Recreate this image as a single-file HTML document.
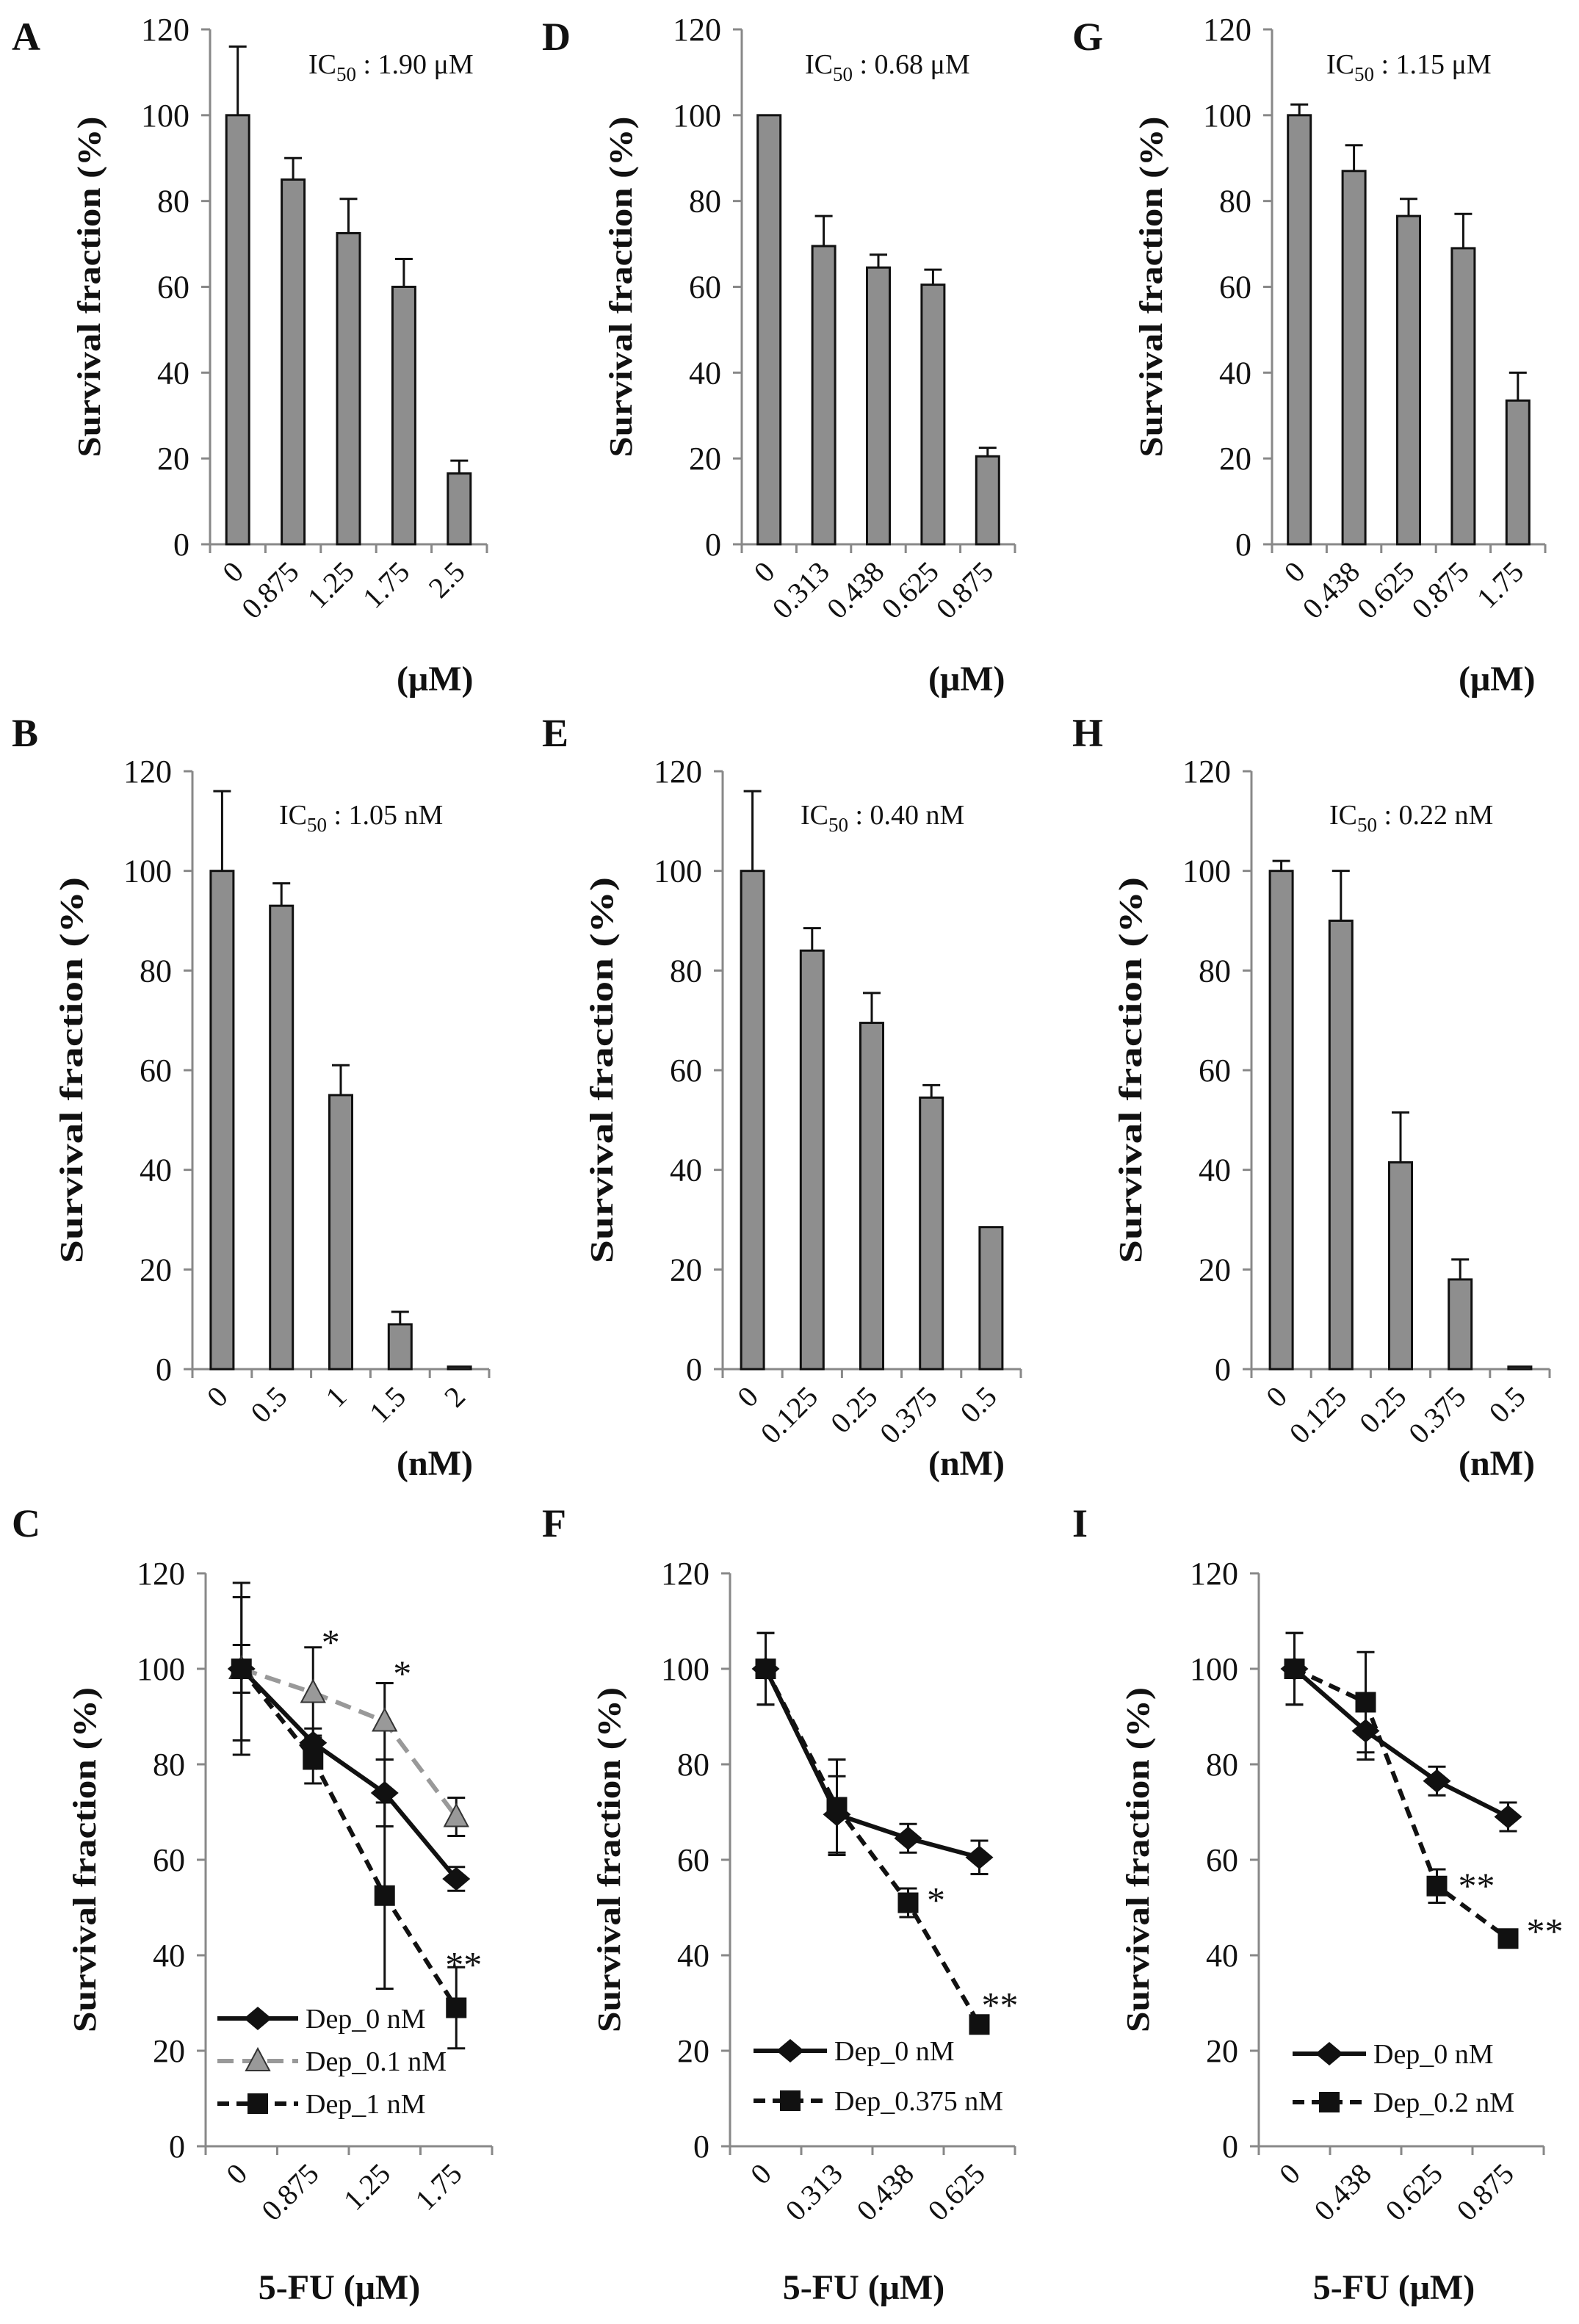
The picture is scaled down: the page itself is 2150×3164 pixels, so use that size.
<!DOCTYPE html>
<html><head><meta charset="utf-8">
<style>
html,body{margin:0;padding:0;background:#fff;}
svg{display:block;font-family:"Liberation Serif",serif;}
svg text{font-family:"Liberation Serif","Times New Roman",serif;}
</style></head>
<body>
<svg id="fig" width="2150" height="3164" viewBox="0 0 2150 3164" xmlns="http://www.w3.org/2000/svg" font-family="Liberation Serif, serif"></svg>
<script>
// ---- data ----
const yTicks=[0,20,40,60,80,100,120];
const A_cats=["0","0.875","1.25","1.75","2.5"];
const A_vals=[100,85,72.5,60,16.5];
const A_errs=[16,5,8,6.5,3];
const D_cats=["0","0.313","0.438","0.625","0.875"];
const D_vals=[100,69.5,64.5,60.5,20.5];
const D_errs=[0,7,3,3.5,2];
const G_cats=["0","0.438","0.625","0.875","1.75"];
const G_vals=[100,87,76.5,69,33.5];
const G_errs=[2.5,6,4,8,6.5];
const B_cats=["0","0.5","1","1.5","2"];
const B_vals=[100,93,55,9,0.5];
const B_errs=[16,4.5,6,2.5,0];
const E_cats=["0","0.125","0.25","0.375","0.5"];
const E_vals=[100,84,69.5,54.5,28.5];
const E_errs=[16,4.5,6,2.5,0];
const H_cats=["0","0.125","0.25","0.375","0.5"];
const H_vals=[100,90,41.5,18,0.5];
const H_errs=[2,10,10,4,0];
const C_cats=["0","0.875","1.25","1.75"];
const C_dep0=[100,84.5,74,56];
const C_dep0_err=[5,3,7,2.5];
const C_dep01=[100,95,89,69];
const C_dep01_err=[18,9.5,8,4];
const C_dep1=[100,81,52.5,29];
const C_dep1_err=[15,5,19.5,8.5];
const F_cats=["0","0.313","0.438","0.625"];
const F_dep0=[100,69.5,64.5,60.5];
const F_dep0_err=[7.5,8,3,3.5];
const F_dep375=[100,71,51,25.5];
const F_dep375_err=[7.5,10,3,1];
const I_cats=["0","0.438","0.625","0.875"];
const I_dep0=[100,87,76.5,69];
const I_dep0_err=[7.5,6,3,3];
const I_dep02=[100,93,54.5,43.5];
const I_dep02_err=[7.5,10.5,3.5,1.5];

const NS="http://www.w3.org/2000/svg";
const svg=document.getElementById('fig');
function mk(tag,attrs,parent){const e=document.createElementNS(NS,tag);for(const k in attrs)e.setAttribute(k,attrs[k]);(parent||svg).appendChild(e);return e;}
function txt(s,attrs,parent){attrs['font-family']='Liberation Serif, serif';const e=mk('text',attrs,parent);e.textContent=s;return e;}

function axes(g,P,cats){
  const yS=v=>P.ybot-(v/120)*(P.ybot-P.ytop);
  const cw=(P.xr-P.x0)/cats.length;
  const ax=mk('line',{x1:P.x0,y1:P.ytop,x2:P.x0,y2:P.ybot,stroke:'#888','stroke-width':3},g);
  
  
  const bx=mk('line',{x1:P.x0-12,y1:P.ybot,x2:P.xr,y2:P.ybot,stroke:'#888','stroke-width':3},g);
  
  
  yTicks.forEach(t=>{
    const y=yS(t);
    mk('line',{x1:P.x0-12,y1:y,x2:P.x0,y2:y,stroke:'#888','stroke-width':3},g);
    const l=txt(String(t),{x:P.x0-28,y:y+15,'text-anchor':'end','font-size':44,fill:'#111'},g);
    
    
  });
  for(let i=0;i<=cats.length;i++){
    const x=P.x0+i*cw;
    mk('line',{x1:x,y1:P.ybot,x2:x,y2:P.ybot+12,stroke:'#888','stroke-width':3},g);
  }
  cats.forEach((c,i)=>{
    const cx=P.x0+(i+0.5)*cw+10, cy=P.ybot+40;
    const l=txt(c,{x:cx,y:cy,'text-anchor':'end','font-size':40,fill:'#111',transform:`rotate(-45 ${cx} ${cy})`},g);
    
    
  });
  const yt=txt('Survival fraction (%)',{x:0,y:0,'text-anchor':'middle','font-size':44,'font-weight':'bold',fill:'#111',textLength:P.tl,lengthAdjust:'spacingAndGlyphs',transform:`translate(${P.x0-150},${(P.ytop+P.ybot)/2}) rotate(-90)`},g);
  
  
  const lt=txt(P.letter,{x:P.lx,y:P.ly,'font-size':54,'font-weight':'bold',fill:'#111'},g);
  
  
  const u=txt(P.unit,{x:P.ux,y:P.uy,'text-anchor':P.uanchor||'start','font-size':48,'font-weight':'bold',fill:'#111'},g);
  
  
  return {yS,cw};
}

function errBar(g,x,y1,y2,col){
  mk('line',{x1:x,y1:y1,x2:x,y2:y2,stroke:col,'stroke-width':3},g);
  mk('line',{x1:x-12,y1:y1,x2:x+12,y2:y1,stroke:col,'stroke-width':3},g);
}

function barChart(P,cats,vals,errs){
  const g=mk('g',{});
  
  
  const {yS,cw}=axes(g,P,cats);
  const bw=31;
  vals.forEach((v,i)=>{
    const cx=P.x0+(i+0.5)*cw;
    if(errs[i]>0) errBar(g,cx,yS(v+errs[i]),yS(v),'#111');
    const r=mk('rect',{x:cx-bw/2,y:yS(v),width:bw,height:Math.max(1,P.ybot-yS(v)),fill:'#8e8e8e',stroke:'#111','stroke-width':3},g);
    
    
  });
  const ic=mk('text',{x:P.icx,y:P.icy,'font-size':38,fill:'#111','font-family':'Liberation Serif, serif'},g);
  
  
  ic.innerHTML='IC<tspan font-size="27" dy="10">50</tspan><tspan dy="-10"> : '+P.ic+'</tspan>';
}

function marker(g,type,x,y){
  let m;
  if(type==='diamond') m=mk('polygon',{points:`${x},${y-16} ${x+19},${y} ${x},${y+16} ${x-19},${y}`,fill:'#111'},g);
  else if(type==='square') m=mk('rect',{x:x-14,y:y-14,width:28,height:28,fill:'#111'},g);
  else m=mk('polygon',{points:`${x},${y-17} ${x+16},${y+13} ${x-16},${y+13}`,fill:'#999',stroke:'#333','stroke-width':2},g);
  return m;
}

function lineChart(P,cats,series,stars,legend){
  const g=mk('g',{});
  
  
  const {yS,cw}=axes(g,P,cats);
  const X=i=>P.x0+(i+0.5)*cw;
  series.forEach(s=>{
    s.vals.forEach((v,i)=>errBar(g,X(i),yS(v+s.errs[i]),yS(v-s.errs[i]),'#111'));
    s.vals.forEach((v,i)=>mk('line',{x1:X(i)-12,y1:yS(v-s.errs[i]),x2:X(i)+12,y2:yS(v-s.errs[i]),stroke:'#111','stroke-width':3},g));
  });
  series.forEach(s=>{
    const pts=s.vals.map((v,i)=>X(i)+','+yS(v)).join(' ');
    const pl=mk('polyline',{points:pts,fill:'none',stroke:s.col,'stroke-width':6,'stroke-dasharray':s.dash||'none'},g);
    
    
    s.vals.forEach((v,i)=>{
      const m=marker(g,s.m,X(i),yS(v));
      
      
    });
  });
  stars.forEach(st=>{
    const t=txt(st.t,{x:X(st.c)+st.dx,y:yS(st.v)+26,'text-anchor':'middle','font-size':50,fill:'#111'},g);
    
    
  });
  series.forEach((s,i)=>{
    const y=legend.y+i*legend.dy;
    const lg=mk('g',{},g);
    
    
    mk('line',{x1:legend.x,y1:y,x2:legend.x+legend.w,y2:y,stroke:s.col,'stroke-width':6,'stroke-dasharray':s.dash||'none'},lg);
    marker(lg,s.m,legend.x+legend.w/2,y);
    txt(s.label,{x:legend.x+legend.w+10,y:y+13,'font-size':38,fill:'#111'},lg);
  });
}

// row 1
barChart({letter:'A',lx:16,ly:68,x0:286,xr:663,ytop:40,ybot:741,tl:464,icx:420,icy:100,ic:'1.90 μM',unit:'(μM)',ux:540,uy:940},A_cats,A_vals,A_errs);
barChart({letter:'D',lx:738,ly:68,x0:1010,xr:1382,ytop:40,ybot:741,tl:464,icx:1096,icy:100,ic:'0.68 μM',unit:'(μM)',ux:1264,uy:940},D_cats,D_vals,D_errs);
barChart({letter:'G',lx:1460,ly:68,x0:1732,xr:2104,ytop:40,ybot:741,tl:464,icx:1806,icy:100,ic:'1.15 μM',unit:'(μM)',ux:1986,uy:940},G_cats,G_vals,G_errs);
// row 2
barChart({letter:'B',lx:16,ly:1016,x0:262,xr:666,ytop:1050,ybot:1864,tl:526,icx:380,icy:1122,ic:'1.05 nM',unit:'(nM)',ux:540,uy:2008},B_cats,B_vals,B_errs);
barChart({letter:'E',lx:738,ly:1016,x0:984,xr:1390,ytop:1050,ybot:1864,tl:526,icx:1090,icy:1122,ic:'0.40 nM',unit:'(nM)',ux:1264,uy:2008},E_cats,E_vals,E_errs);
barChart({letter:'H',lx:1460,ly:1016,x0:1704,xr:2110,ytop:1050,ybot:1864,tl:526,icx:1810,icy:1122,ic:'0.22 nM',unit:'(nM)',ux:1986,uy:2008},H_cats,H_vals,H_errs);
// row 3
lineChart({letter:'C',lx:16,ly:2092,x0:280,xr:670,ytop:2142,ybot:2922,tl:470,unit:'5-FU (μM)',ux:462,uy:3130,uanchor:'middle'},C_cats,
 [{name:'dep-0',label:'Dep_0 nM',vals:C_dep0,errs:C_dep0_err,col:'#111',m:'diamond'},
  {name:'dep-0.1',label:'Dep_0.1 nM',vals:C_dep01,errs:C_dep01_err,col:'#999',dash:'22,12',m:'triangle'},
  {name:'dep-1',label:'Dep_1 nM',vals:C_dep1,errs:C_dep1_err,col:'#111',dash:'16,10',m:'square'}],
 [{c:1,v:107,t:'*',dx:24},{c:2,v:100.5,t:'*',dx:24},{c:3,v:39.5,t:'**',dx:10}],
 {x:296,y:2748,dy:58,w:110});
lineChart({letter:'F',lx:738,ly:2092,x0:994,xr:1382,ytop:2142,ybot:2922,tl:470,unit:'5-FU (μM)',ux:1176,uy:3130,uanchor:'middle'},F_cats,
 [{name:'dep-0',label:'Dep_0 nM',vals:F_dep0,errs:F_dep0_err,col:'#111',m:'diamond'},
  {name:'dep-0.375',label:'Dep_0.375 nM',vals:F_dep375,errs:F_dep375_err,col:'#111',dash:'16,10',m:'square'}],
 [{c:2,v:53,t:'*',dx:38},{c:3,v:31,t:'**',dx:28}],
 {x:1026,y:2792,dy:68,w:100});
lineChart({letter:'I',lx:1460,ly:2092,x0:1714,xr:2102,ytop:2142,ybot:2922,tl:470,unit:'5-FU (μM)',ux:1898,uy:3130,uanchor:'middle'},I_cats,
 [{name:'dep-0',label:'Dep_0 nM',vals:I_dep0,errs:I_dep0_err,col:'#111',m:'diamond'},
  {name:'dep-0.2',label:'Dep_0.2 nM',vals:I_dep02,errs:I_dep02_err,col:'#111',dash:'16,10',m:'square'}],
 [{c:2,v:56,t:'**',dx:54},{c:3,v:46.5,t:'**',dx:50}],
 {x:1760,y:2796,dy:66,w:100});
</script>
</body></html>
